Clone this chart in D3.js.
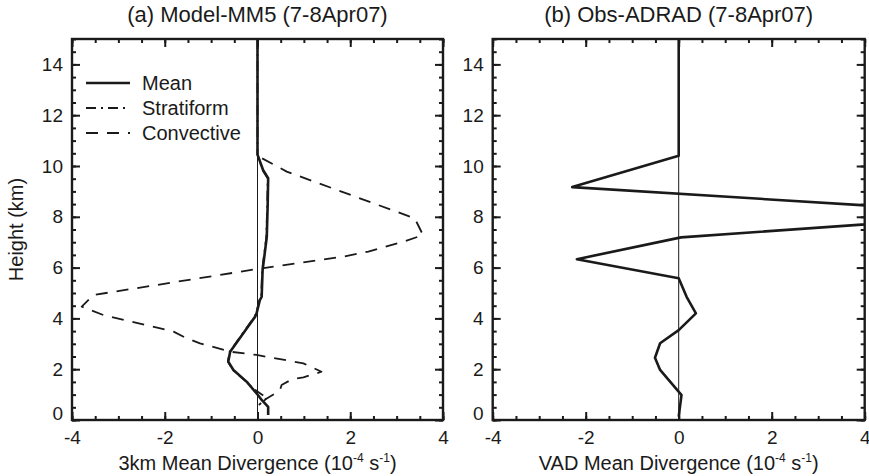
<!DOCTYPE html>
<html>
<head>
<meta charset="utf-8">
<script src="https://cdn.jsdelivr.net/npm/d3@7"></script>
<style>
  html, body { margin: 0; padding: 0; background: #fff; }
  svg { display: block; }
  text { font-family: "Liberation Sans", Arial, Helvetica, sans-serif; fill: #1a1a1a; }
</style>
</head>
<body>
<svg id="chart" width="869" height="476"></svg>
<script>
// Divergence profiles (units 1e-4 s^-1) against height (km)

// Panel (a): MM5 model, 3 km mean divergence
const meanHeight = [15, 10.45, 9.84, 9.52, 8.5, 7.2, 5.9, 4.85, 4.72, 4.2, 4.07, 3.41, 2.69, 2.3, 1.97, 1.5, 1.05, 0.79, 0.52, 0.2];
const meanValue  = [0, 0, 0.12, 0.23, 0.22, 0.2, 0.11, 0.09, 0.05, -0.02, -0.05, -0.31, -0.59, -0.63, -0.52, -0.23, -0.02, 0.09, 0.23, 0.23];

const stratHeight = [15, 10.45, 9.84, 9.52, 8.5, 7.2, 5.9, 4.85, 4.72, 4.2, 4.07, 3.41, 2.69, 2.3, 1.97, 1.5, 1.25, 0.87, 0.59];
const stratValue  = [0, 0, 0.11, 0.22, 0.21, 0.19, 0.1, 0.08, 0.04, -0.03, -0.06, -0.32, -0.6, -0.64, -0.53, -0.24, -0.1, 0.2, 0.03];

const convHeight = [10.3, 9.78, 7.94, 7.28, 7.02, 6.63, 6.43, 5.94, 4.92, 4.46, 4.13, 3.48, 3.22, 3.02, 2.69, 2.56, 2.23, 1.9, 1.68, 1.6, 1.38, 1.15, 0.85, 0.59];
const convValue  = [0.1, 0.63, 3.39, 3.57, 3.14, 2.39, 1.85, -0.02, -3.54, -3.79, -3.32, -1.81, -1.53, -1.24, -0.59, -0.02, 0.99, 1.38, 0.99, 0.74, 0.52, 0.48, 0.2, 0.03];

// Panel (b): ADRAD VAD mean divergence
const vadHeight = [15, 10.4, 9.17, 8.1, 7.19, 6.33, 5.58, 4.85, 4.2, 3.54, 3.02, 2.45, 1.97, 1.05, 0.98, 0.13];
const vadValue  = [0, 0, -2.29, 7.06, 0.05, -2.19, 0, 0.17, 0.37, 0, -0.4, -0.51, -0.4, 0.03, 0.06, 0];

// Axis ticks and labels
const xMajorTicks = [-4, -2, 0, 2, 4];
const yMajorTicks = [0, 2, 4, 6, 8, 10, 12, 14];
const legendLabels = ["Mean", "Stratiform", "Convective"];
const panelTitles = ["(a) Model-MM5 (7-8Apr07)", "(b) Obs-ADRAD (7-8Apr07)"];
const xTitles = ["3km Mean Divergence", "VAD Mean Divergence"];
const yTitle = "Height (km)";

const svg = d3.select("#chart");
const plotTop = 39, plotBottom = 420;
const panelX = [[72, 443], [492.7, 864.7]];
const ink = "#1a1a1a";

const y = d3.scaleLinear().domain([0, 15]).range([plotBottom, plotTop]);
const xMinor = d3.range(-4, 4.01, 0.5);
const yMinor = d3.range(0, 15.01, 0.5);

const styles = {
  mean:  { width: 2.6, dash: null },
  strat: { width: 1.8, dash: "10,5,2,5" },
  conv:  { width: 1.8, dash: "12,9" }
};

function drawPanel(i, series) {
  const [x0, x1] = panelX[i];
  const x = d3.scaleLinear().domain([-4, 4]).range([x0, x1]);
  const g = svg.append("g");

  const clipId = "clip" + i;
  svg.append("defs").append("clipPath").attr("id", clipId)
    .append("rect").attr("x", x0).attr("y", plotTop).attr("width", x1 - x0).attr("height", plotBottom - plotTop);

  // zero reference line
  g.append("line")
    .attr("x1", x(0)).attr("x2", x(0)).attr("y1", plotTop).attr("y2", plotBottom)
    .attr("stroke", ink).attr("stroke-width", 1);

  // profiles
  const line = d3.line().x(d => x(d[1])).y(d => y(d[0]));
  const plot = g.append("g").attr("clip-path", `url(#${clipId})`);
  series.forEach(s => {
    plot.append("path")
      .datum(d3.zip(s.h, s.v))
      .attr("d", line)
      .attr("fill", "none")
      .attr("stroke", ink)
      .attr("stroke-width", s.style.width)
      .attr("stroke-dasharray", s.style.dash)
      .attr("stroke-linejoin", "round");
  });

  // ticks (pointing inwards) on all four sides
  const tickStyle = sel => {
    sel.select(".domain").remove();
    sel.selectAll(".tick line").attr("stroke", ink).attr("stroke-width", 2);
  };
  g.append("g").attr("transform", `translate(0,${plotBottom})`)
    .call(d3.axisBottom(x).tickValues(xMinor).tickSize(-4).tickFormat(""))
    .call(tickStyle);
  const xb = g.append("g").attr("transform", `translate(0,${plotBottom})`)
    .call(d3.axisBottom(x).tickValues(xMajorTicks).tickSize(-8).tickPadding(11).tickFormat(d3.format("d")))
    .call(tickStyle);
  xb.selectAll(".tick text").attr("font-size", 19).attr("fill", ink)
    .text(d => (d < 0 ? "-" + Math.abs(d) : d));
  g.append("g").attr("transform", `translate(0,${plotTop})`)
    .call(d3.axisTop(x).tickValues(xMinor).tickSize(-4).tickFormat(""))
    .call(tickStyle);
  g.append("g").attr("transform", `translate(0,${plotTop})`)
    .call(d3.axisTop(x).tickValues(xMajorTicks).tickSize(-8).tickFormat(""))
    .call(tickStyle);

  g.append("g").attr("transform", `translate(${x0},0)`)
    .call(d3.axisLeft(y).tickValues(yMinor).tickSize(-4).tickFormat(""))
    .call(tickStyle);
  const yl = g.append("g").attr("transform", `translate(${x0},0)`)
    .call(d3.axisLeft(y).tickValues(yMajorTicks).tickSize(-8).tickPadding(9))
    .call(tickStyle);
  yl.selectAll(".tick text").attr("font-size", 19).attr("fill", ink)
    .attr("dy", d => (d === 0 ? "-0.05em" : "0.32em"));
  g.append("g").attr("transform", `translate(${x1},0)`)
    .call(d3.axisRight(y).tickValues(yMinor).tickSize(-4).tickFormat(""))
    .call(tickStyle);
  g.append("g").attr("transform", `translate(${x1},0)`)
    .call(d3.axisRight(y).tickValues(yMajorTicks).tickSize(-8).tickFormat(""))
    .call(tickStyle);

  // frame
  g.append("rect")
    .attr("x", x0).attr("y", plotTop).attr("width", x1 - x0).attr("height", plotBottom - plotTop)
    .attr("fill", "none").attr("stroke", ink).attr("stroke-width", 2.4);

  // title
  g.append("text")
    .attr("x", (x0 + x1) / 2).attr("y", 22)
    .attr("text-anchor", "middle").attr("font-size", 22)
    .text(panelTitles[i]);

  // x axis title with superscript units
  const t = g.append("text")
    .attr("x", (x0 + x1) / 2).attr("y", 470)
    .attr("text-anchor", "middle").attr("font-size", 20);
  t.append("tspan").text(xTitles[i] + " (10");
  t.append("tspan").attr("font-size", 12).attr("dy", -8).text("-4");
  t.append("tspan").attr("dy", 8).text(" s");
  t.append("tspan").attr("font-size", 12).attr("dy", -8).text("-1");
  t.append("tspan").attr("dy", 8).text(")");
}

drawPanel(0, [
  { h: stratHeight, v: stratValue, style: styles.strat },
  { h: convHeight, v: convValue, style: styles.conv },
  { h: meanHeight, v: meanValue, style: styles.mean }
]);
drawPanel(1, [
  { h: vadHeight, v: vadValue, style: styles.mean }
]);

// y axis title
svg.append("text")
  .attr("transform", `translate(23,${(plotTop + plotBottom) / 2}) rotate(-90)`)
  .attr("text-anchor", "middle").attr("font-size", 20)
  .text(yTitle);

// legend (panel a)
const legendStyles = [styles.mean, styles.strat, styles.conv];
const lg = svg.append("g");
legendLabels.forEach((label, k) => {
  const ly = 83 + k * 25;
  lg.append("line")
    .attr("x1", 86).attr("x2", 130).attr("y1", ly).attr("y2", ly)
    .attr("stroke", ink).attr("stroke-width", legendStyles[k].width)
    .attr("stroke-dasharray", legendStyles[k].dash);
  lg.append("text")
    .attr("x", 142).attr("y", ly).attr("dy", "0.35em")
    .attr("font-size", 20)
    .text(label);
});
</script>
</body>
</html>
